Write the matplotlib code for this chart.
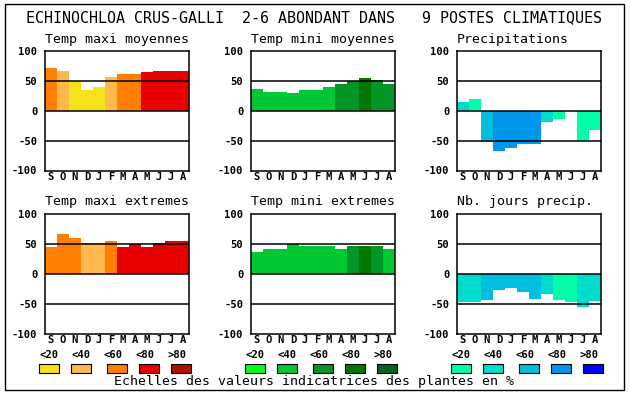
import matplotlib
matplotlib.use("Agg")
import matplotlib.pyplot as plt
from matplotlib.patches import Rectangle

W, H = 630, 394
FONT = "DejaVu Sans Mono"

months = ["S", "O", "N", "D", "J", "F", "M", "A", "M", "J", "J", "A"]
classes = ["<20", "<40", "<60", "<80", ">80"]

pal_temp = ["#f7e11a", "#ffb84d", "#ff8000", "#e80000", "#b01000"]
pal_green = ["#00ff1a", "#00c832", "#009628", "#007800", "#006420"]
pal_blue = ["#00ffaa", "#00dccc", "#00bede", "#0096eb", "#0000ff"]

tmax_moy = [72, 66, 50, 35, 40, 56, 61, 62, 65, 67, 67, 66]
tmax_moy_cls = [2, 1, 0, 0, 0, 1, 2, 2, 3, 3, 3, 3]

tmin_moy = [37, 32, 32, 30, 34, 35, 40, 44, 50, 54, 52, 44]
tmin_moy_cls = [1, 1, 1, 1, 1, 1, 1, 2, 2, 3, 2, 2]

precip = [15, 20, -53, -68, -62, -55, -55, -18, -13, 0, -50, -33]
precip_cls = [1, 0, 2, 3, 3, 3, 3, 1, 0, 0, 0, 0]

tmax_ext = [44, 67, 60, 52, 52, 55, 44, 49, 44, 52, 55, 54]
tmax_ext_cls = [2, 2, 2, 1, 1, 2, 3, 3, 3, 3, 3, 3]

tmin_ext = [36, 42, 41, 49, 46, 47, 47, 42, 47, 47, 46, 41]
tmin_ext_cls = [1, 1, 1, 1, 1, 1, 1, 1, 2, 3, 2, 1]

jours = [-48, -48, -44, -28, -24, -31, -43, -34, -44, -48, -56, -46]
jours_cls = [1, 1, 2, 2, 2, 2, 2, 1, 0, 0, 1, 1]

panels = [
    ("Temp maxi moyennes", tmax_moy, tmax_moy_cls, pal_temp, 0, 0),
    ("Temp mini moyennes", tmin_moy, tmin_moy_cls, pal_green, 0, 1),
    ("Precipitations", precip, precip_cls, pal_blue, 0, 2),
    ("Temp maxi extremes", tmax_ext, tmax_ext_cls, pal_temp, 1, 0),
    ("Temp mini extremes", tmin_ext, tmin_ext_cls, pal_green, 1, 1),
    ("Nb. jours precip.", jours, jours_cls, pal_blue, 1, 2),
]

title = "ECHINOCHLOA CRUS-GALLI  2-6 ABONDANT DANS   9 POSTES CLIMATIQUES"
footer = "Echelles des valeurs indicatrices des plantes en %"

fig = plt.figure(figsize=(W / 100, H / 100), dpi=100)
fig.patch.set_facecolor("white")

# outer border
fig.add_artist(Rectangle((5 / W, (H - 390) / H), 619 / W, 386 / H,
                         transform=fig.transFigure, fill=False,
                         edgecolor="black", linewidth=1.0))

fig.text(26 / W, 1 - 18 / H, title, fontsize=10.8, family=FONT,
         ha="left", va="center")

col_left = [45, 251, 457]
row_top = [51, 214]
ax_w, ax_h = 144, 119.5

for name, vals, cls, pal, r, c in panels:
    left = col_left[c]
    top = row_top[r]
    ax = fig.add_axes([left / W, (H - top - ax_h) / H, ax_w / W, ax_h / H])
    x = list(range(len(months)))
    ax.bar(x, vals, width=1.0, color=[pal[k] for k in cls], linewidth=0, zorder=1)
    for yv in (50, 0, -50):
        ax.axhline(yv, color="black", linewidth=1.1, zorder=3)
    ax.set_xlim(-0.5, 11.5)
    ax.set_ylim(-100, 100)
    ax.set_yticks([-100, -50, 0, 50, 100])
    ax.set_yticklabels(["-100", "-50", "0", "50", "100"])
    ax.set_xticks(x)
    ax.set_xticklabels(months)
    ax.tick_params(length=0, labelsize=7.6)
    ax.tick_params(axis="y", pad=5.5)
    ax.tick_params(axis="x", pad=1.2)
    for lab in ax.get_xticklabels() + ax.get_yticklabels():
        lab.set_fontfamily(FONT)
        lab.set_fontweight("bold")
    for sp in ax.spines.values():
        sp.set_linewidth(1.1)
        sp.set_zorder(4)
    fig.text(left / W, 1 - (top - 12) / H, name, fontsize=9.5, family=FONT,
             ha="left", va="center")

    # legend under second row
    if r == 1:
        for i, lab in enumerate(classes):
            cx_lab = left + 4 + 32 * i
            fig.text(cx_lab / W, 1 - 354.5 / H, lab, fontsize=7.6, family=FONT,
                     fontweight="bold", ha="center", va="center")
            bx = left - 6 + [0, 32, 68, 100, 132][i]
            fig.add_artist(Rectangle((bx / W, (H - 373) / H), 20 / W, 9 / H,
                                     transform=fig.transFigure,
                                     facecolor=pal[i], edgecolor="black",
                                     linewidth=0.8))

fig.text(314.5 / W, 1 - 382 / H, footer, fontsize=9.5, family=FONT,
         ha="center", va="center")

fig.savefig("out.png", dpi=100)
